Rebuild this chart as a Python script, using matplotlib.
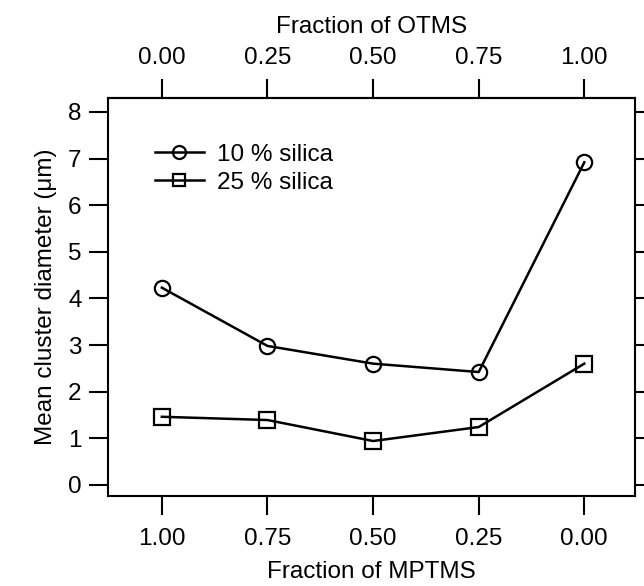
import matplotlib
matplotlib.use('Agg')
import matplotlib.pyplot as plt
import numpy as np

plt.rcParams['font.family'] = ['Liberation Sans', 'DejaVu Sans']

# data
mptms_labels = ['1.00', '0.75', '0.50', '0.25', '0.00']
otms_labels = ['0.00', '0.25', '0.50', '0.75', '1.00']
silica_10 = [4.23, 2.98, 2.60, 2.42, 6.92]
silica_25 = [1.46, 1.39, 0.94, 1.24, 2.60]

pos = np.arange(len(mptms_labels))
fs = 17.5

fig = plt.figure(figsize=(6.44, 5.86), dpi=100)
ax = fig.add_axes([108/644, 1 - 496/586, (635-108)/644, (496-98)/586])

ax.plot(pos, silica_10, color='black', lw=1.8, marker='o', ms=11,
        mfc='none', mec='black', mew=1.6, label='10 % silica')
ax.plot(pos, silica_25, color='black', lw=1.8, marker='s', ms=11,
        mfc='none', mec='black', mew=1.6, label='25 % silica')

ax.set_xlim(-0.51, 4.48)
ax.set_ylim(-0.24, 8.30)
ax.set_xticks(pos)
ax.set_xticklabels(mptms_labels)
ax.set_yticks(range(0, 9))
ax.tick_params(axis='x', direction='out', length=14, width=1.5,
               labelsize=fs, pad=9)
ax.tick_params(axis='y', direction='out', length=14, width=1.5,
               labelsize=fs, pad=5, right=True)
ax.set_xlabel('Fraction of MPTMS', fontsize=fs, labelpad=8)
ax.set_ylabel('Mean cluster diameter (\u03bcm)', fontsize=fs, labelpad=8)
for s in ax.spines.values():
    s.set_linewidth(1.5)

top = ax.secondary_xaxis('top')
top.set_xticks(pos)
top.set_xticklabels(otms_labels)
top.tick_params(direction='out', length=14, width=1.5, labelsize=fs, pad=7)
top.set_xlabel('Fraction of OTMS', fontsize=fs, labelpad=10)
top.spines['top'].set_linewidth(1.5)

ax.legend(loc='upper left', bbox_to_anchor=(0.089, 0.885), frameon=False,
          fontsize=fs, handlelength=2.0, handletextpad=0.55,
          labelspacing=0.25, borderaxespad=0, borderpad=0, markerscale=0.85)

fig.savefig('out.png', dpi=100)
